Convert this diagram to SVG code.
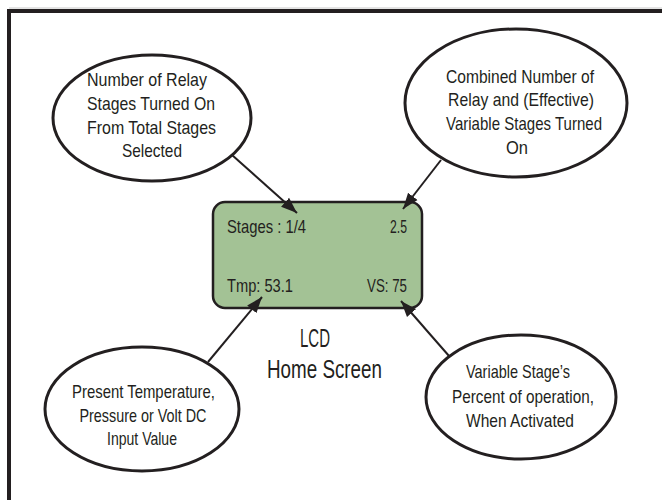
<svg xmlns="http://www.w3.org/2000/svg" width="662" height="500" viewBox="0 0 662 500">
<style>
.frame{fill:none;stroke:#231f20;stroke-width:4}
.bubble{fill:#ffffff;stroke:#231f20;stroke-width:3}
.lcd{fill:#a3c295;stroke:#231f20;stroke-width:2.5}
.t{font-family:"Liberation Sans",Arial,sans-serif;fill:#231f20}
.bt{font-size:19px;text-anchor:middle}
.lt{font-size:19px}
.big{font-size:26px;text-anchor:middle}
.conn{stroke:#231f20;stroke-width:2;fill:none}
</style>
<defs>
<marker id="arrow" markerUnits="userSpaceOnUse" markerWidth="18" markerHeight="14" refX="16" refY="7" orient="auto">
<path d="M0,1 L16,7 L0,13 Z" fill="#231f20"/>
</marker>
</defs>
<rect width="662" height="500" fill="#ffffff"/>
<line x1="9" y1="8" x2="662" y2="8" stroke="#c8c8c8" stroke-width="1"/>
<path class="frame" d="M9,500 V11 H662"/>
<g id="lcd">
<rect class="lcd" x="213" y="202" width="209" height="106" rx="12" ry="12"/>
<text class="t lt" x="227" y="233" textLength="79" lengthAdjust="spacingAndGlyphs">Stages : 1/4</text>
<text class="t lt" x="390" y="233" textLength="17" lengthAdjust="spacingAndGlyphs">2.5</text>
<text class="t lt" x="227" y="292" textLength="66" lengthAdjust="spacingAndGlyphs">Tmp: 53.1</text>
<text class="t lt" x="367" y="292" textLength="40" lengthAdjust="spacingAndGlyphs">VS: 75</text>
<text class="t big" x="315" y="347" textLength="30" lengthAdjust="spacingAndGlyphs">LCD</text>
<text class="t big" x="324.5" y="378" textLength="115" lengthAdjust="spacingAndGlyphs">Home Screen</text>
</g>
<g id="relay-stages">
<ellipse class="bubble" cx="152" cy="118" rx="99" ry="63"/>
<text class="t bt" x="147" y="86" textLength="120" lengthAdjust="spacingAndGlyphs">Number of Relay</text>
<text class="t bt" x="151" y="110" textLength="128" lengthAdjust="spacingAndGlyphs">Stages Turned On</text>
<text class="t bt" x="151.5" y="134" textLength="129" lengthAdjust="spacingAndGlyphs">From Total Stages</text>
<text class="t bt" x="152" y="157" textLength="60" lengthAdjust="spacingAndGlyphs">Selected</text>
</g>
<g id="combined-stages">
<ellipse class="bubble" cx="516" cy="103" rx="111" ry="74"/>
<text class="t bt" x="520" y="83" textLength="148" lengthAdjust="spacingAndGlyphs">Combined Number of</text>
<text class="t bt" x="521" y="106" textLength="146" lengthAdjust="spacingAndGlyphs">Relay and (Effective)</text>
<text class="t bt" x="524" y="130" textLength="156" lengthAdjust="spacingAndGlyphs">Variable Stages Turned</text>
<text class="t bt" x="517" y="154" textLength="22" lengthAdjust="spacingAndGlyphs">On</text>
</g>
<g id="present-value">
<ellipse class="bubble" cx="142" cy="409" rx="97" ry="62"/>
<text class="t bt" x="143.5" y="398" textLength="143" lengthAdjust="spacingAndGlyphs">Present Temperature,</text>
<text class="t bt" x="143" y="422" textLength="127" lengthAdjust="spacingAndGlyphs">Pressure or Volt DC</text>
<text class="t bt" x="142" y="445" textLength="70" lengthAdjust="spacingAndGlyphs">Input Value</text>
</g>
<g id="variable-stage">
<ellipse class="bubble" cx="521" cy="397" rx="95" ry="62"/>
<text class="t bt" x="518" y="378" textLength="104" lengthAdjust="spacingAndGlyphs">Variable Stage’s</text>
<text class="t bt" x="523" y="403" textLength="142" lengthAdjust="spacingAndGlyphs">Percent of operation,</text>
<text class="t bt" x="520" y="427" textLength="108" lengthAdjust="spacingAndGlyphs">When Activated</text>
</g>
<g id="connectors">
<line class="conn" x1="232" y1="155" x2="297" y2="213" marker-end="url(#arrow)"/>
<line class="conn" x1="441" y1="160" x2="403" y2="209" marker-end="url(#arrow)"/>
<line class="conn" x1="208" y1="362" x2="262" y2="297" marker-end="url(#arrow)"/>
<line class="conn" x1="449" y1="356" x2="401" y2="301" marker-end="url(#arrow)"/>
</g>
</svg>
